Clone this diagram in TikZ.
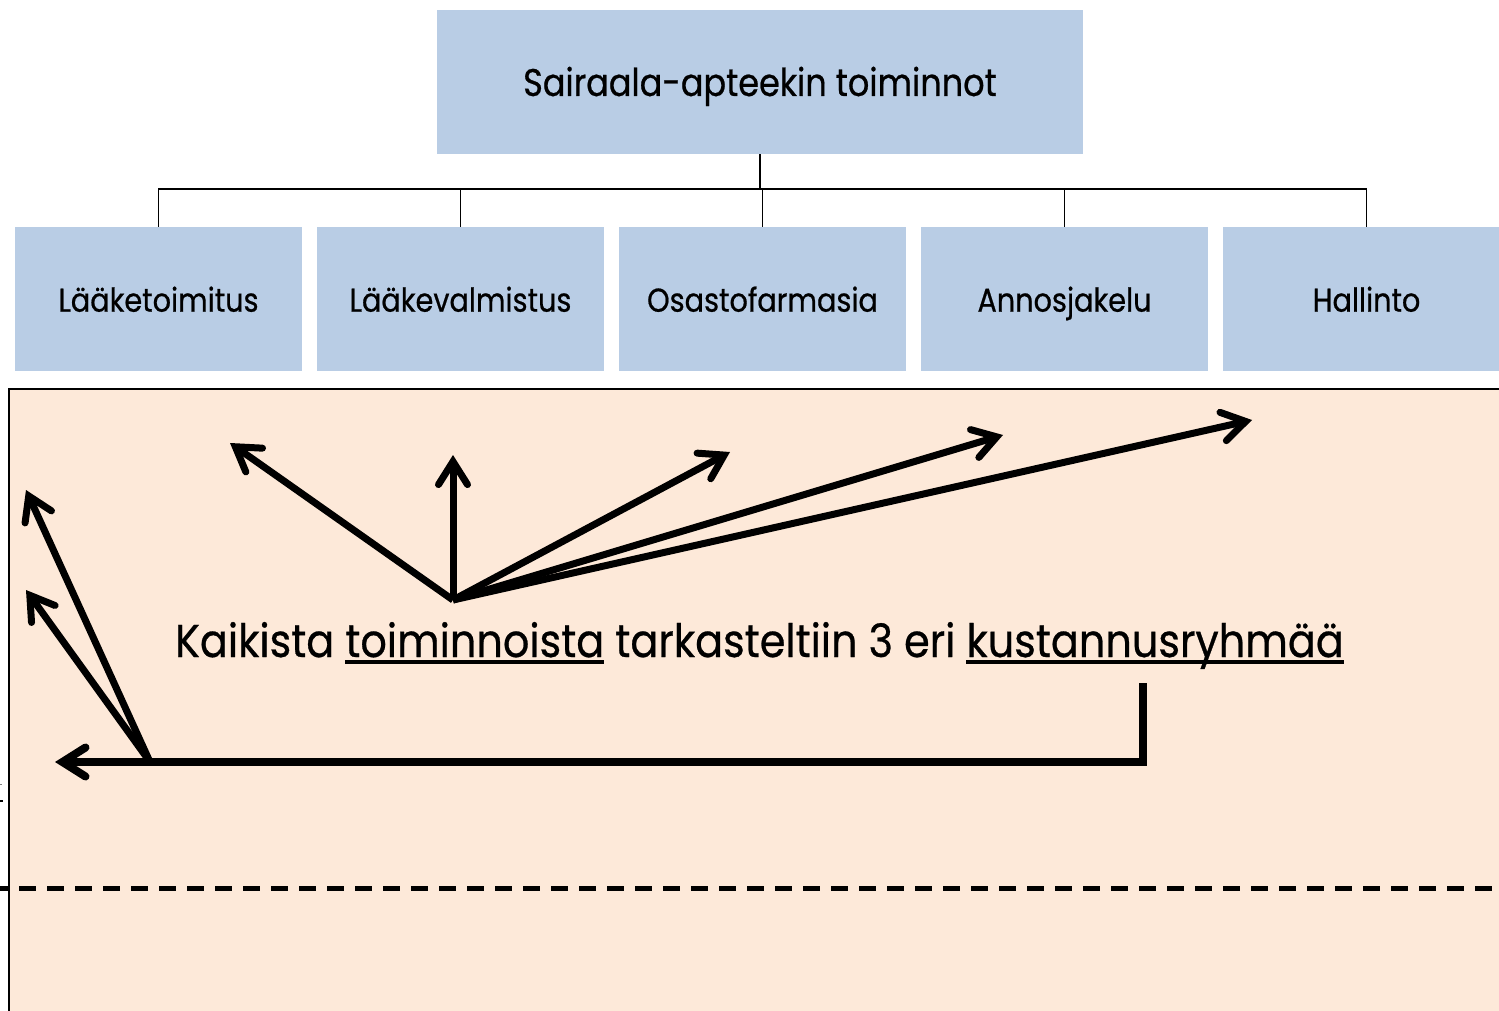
\documentclass[tikz,border=0pt]{standalone}
\usepackage{fontspec}
\setmainfont[FakeStretch=0.87,FakeBold=0.6]{Poppins}
\newfontfamily\capfont[FakeStretch=0.9,FakeBold=0.6]{Poppins}
\usetikzlibrary{arrows.meta}
\definecolor{boxblue}{HTML}{B9CDE5}
\definecolor{peach}{HTML}{FDE9D9}
% underlined word drawn with a rule beneath its box
\newcommand\uword[1]{\setbox0\hbox{#1}\rlap{\rule[-7pt]{\wd0}{4.5pt}}\box0\relax}
\begin{document}
\begin{tikzpicture}[x=1pt,y=-1pt,
  orgbox/.style={fill=boxblue,inner sep=0pt,minimum height=144pt,text depth=0pt},
  childbox/.style={orgbox,minimum width=287pt,text height=25.4pt,font=\fontsize{33}{36}\selectfont},
  link/.style={line width=1.8pt},
  arr/.style={line width=7pt,-{Straight Barb[length=23pt,width=29pt,line cap=round,line join=miter]}}]
\useasboundingbox (0,0) rectangle (1499,1011);
\begin{scope}
\clip (0,0) rectangle (1499,1011);
% lower panel
\fill[peach] (9,389) rectangle (1530,1040);
\draw[line width=2.5pt] (1530,389) -- (9,389) -- (9,1040);
\draw[line width=5pt,dash pattern=on 17pt off 11pt,dash phase=9pt] (0,888) -- (1499,888);
\draw[line width=2.5pt] (0,801) -- (3,801);
\draw[line width=1pt,gray] (0,784) -- (2,784);
% hierarchy boxes
\node[orgbox,minimum width=646pt,text height=28pt,font=\fontsize{38.5}{42}\selectfont] (top) at (760,82) {Sairaala-apteekin toiminnot};
\node[childbox] (c1) at (158.5,299) {Lääketoimitus};
\node[childbox] (c2) at (460.5,299) {Lääkevalmistus};
\node[childbox] (c3) at (762.5,299) {Osastofarmasia};
\node[childbox] (c4) at (1064.5,299) {Annosjakelu};
\node[childbox] (c5) at (1366.5,299) {Hallinto};
\end{scope}
% tree connectors
\coordinate (bus) at (760,189);
\draw[line width=2.5pt] (top.south) -- (bus);
\draw[link] (c1.north) |- (c5.north |- bus) -- (c5.north);
\draw[link] (c2.north) -- (c2.north |- bus);
\draw[link] (c3.north) -- (c3.north |- bus);
\draw[link] (c4.north) -- (c4.north |- bus);
% caption
\node[anchor=base,inner sep=0pt,font=\capfont\fontsize{46}{50}\selectfont] (cap) at (759.5,657)
  {Kaikista \uword{toiminnoista} tarkasteltiin 3 eri \uword{kustannusryhmää}};
% fan of arrows
\coordinate (O) at (453,600);
\coordinate (t1) at (230,443);
\coordinate (t2) at (453,455);
\coordinate (t3) at (730,452);
\coordinate (t4) at (1003,435);
\coordinate (t5) at (1252,420);
\foreach \t in {t1,t2,t3,t4,t5} \draw[arr] (O) -- (\t);
% return arrow
\coordinate (r0) at (1143,683);
\coordinate (r1) at (1143,762);
\coordinate (rend) at (55,762);
\coordinate (B) at (150,762);
\coordinate (u1) at (26,490);
\coordinate (u2) at (26,590);
\draw[arr,line width=8pt,line join=miter] (r0) -- (r1) -- (rend);
\draw[arr] (B) -- (u1);
\draw[arr] (B) -- (u2);
\end{tikzpicture}
\end{document}
